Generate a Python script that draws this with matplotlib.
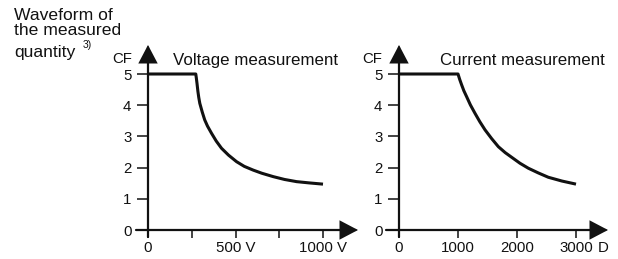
import matplotlib
matplotlib.use('Agg')
import matplotlib.pyplot as plt

plt.rcParams['font.family'] = ['Liberation Sans', 'DejaVu Sans']

# ---------------- data ----------------
volt_V = [0, 273, 276, 280, 285, 290, 296, 310, 324, 340, 363, 390, 420,
          460, 506, 550, 601, 650, 716, 780, 849, 920, 1000]
volt_CF = [5, 5, 4.88, 4.70, 4.45, 4.25, 4.06, 3.78, 3.53, 3.33, 3.10, 2.85,
           2.62, 2.40, 2.19, 2.04, 1.92, 1.82, 1.71, 1.62, 1.55, 1.51, 1.47]

curr_D = [0, 1000, 1030, 1062, 1100, 1147, 1210, 1288, 1370, 1458, 1570,
          1684, 1800, 1910, 2050, 2192, 2360, 2531, 2760, 3000]
curr_CF = [5, 5, 4.82, 4.65, 4.46, 4.27, 4.01, 3.74, 3.47, 3.21, 2.93,
           2.67, 2.48, 2.33, 2.14, 1.98, 1.83, 1.69, 1.57, 1.47]

cf_ticks = [0, 1, 2, 3, 4, 5]
cf_labels = ['0', '1', '2', '3', '4', '5']
volt_ticks = [0, 250, 500, 750, 1000]
volt_labels = ['0', '', '500 V', '', '1000 V']
curr_ticks = [0, 1000, 2000, 3000]
curr_labels = ['0', '1000', '2000', '3000']
curr_unit = 'D'

# ---------------- layout (pixels) ----------------
W, H = 618, 259
fig = plt.figure(figsize=(W / 100, H / 100), dpi=100)
fig.patch.set_facecolor('white')

Y0_PX = 230.0        # pixel row of CF = 0
PX_PER_CF = 31.2
INK = '#111111'
TICK_FS = 10.8
XTICK_LEN, XTICK_PAD = 5.8, 2.0


def make_axes(box_x0, box_x1, x0_px, px_per_unit, box_y0=40, box_y1=258):
    ax = fig.add_axes([box_x0 / W, 1 - box_y1 / H,
                       (box_x1 - box_x0) / W, (box_y1 - box_y0) / H])
    ax.set_xlim((box_x0 - x0_px) / px_per_unit, (box_x1 - x0_px) / px_per_unit)
    ax.set_ylim((Y0_PX - box_y1) / PX_PER_CF, (Y0_PX - box_y0) / PX_PER_CF)
    ax.patch.set_alpha(0)
    for s in ['top', 'right']:
        ax.spines[s].set_visible(False)
    ax.spines['bottom'].set_position(('data', 0))
    ax.spines['left'].set_position(('data', 0))
    ax.spines['bottom'].set_visible(False)
    ax.spines['left'].set_visible(False)
    return ax


def draw_axes_lines(ax, x_start, x_tip, y_start, y_tip):
    style = dict(arrowstyle='-|>,head_length=0.4,head_width=0.21',
                 mutation_scale=27, lw=1.6, color=INK,
                 shrinkA=0, shrinkB=0, joinstyle='miter')
    ax.annotate('', xy=(x_tip, 0), xytext=(x_start, 0), arrowprops=style,
                annotation_clip=False)
    ax.annotate('', xy=(0, y_tip), xytext=(0, y_start), arrowprops=style,
                annotation_clip=False)


def style_ticks(ax):
    ax.tick_params(axis='x', direction='out', length=XTICK_LEN, width=1.1,
                   color=INK, labelsize=TICK_FS, pad=XTICK_PAD, labelcolor=INK)
    ax.tick_params(axis='y', direction='out', length=7.9, width=1.1,
                   color=INK, labelsize=TICK_FS, pad=4.0, labelcolor=INK)


# left: voltage
axL = make_axes(110, 370, 148.0, 0.175)
draw_axes_lines(axL, (136 - 148) / 0.175, (358 - 148) / 0.175,
                (Y0_PX - 237) / PX_PER_CF, (Y0_PX - 45) / PX_PER_CF)
axL.set_xticks(volt_ticks)
axL.set_xticklabels(volt_labels)
axL.set_yticks(cf_ticks)
axL.set_yticklabels(cf_labels)
style_ticks(axL)
axL.plot(volt_V, volt_CF, color=INK, lw=2.2, solid_joinstyle='round',
         solid_capstyle='butt', clip_on=False)

# right: current
axR = make_axes(372, 616, 399.0, 0.059)
draw_axes_lines(axR, (386 - 399) / 0.059, (608 - 399) / 0.059,
                (Y0_PX - 237) / PX_PER_CF, (Y0_PX - 45) / PX_PER_CF)
axR.set_xticks(curr_ticks)
axR.set_xticklabels(curr_labels)
axR.set_yticks(cf_ticks)
axR.set_yticklabels(cf_labels)
style_ticks(axR)
axR.plot(curr_D, curr_CF, color=INK, lw=2.2, solid_joinstyle='round',
         solid_capstyle='butt', clip_on=False)
axR.annotate(curr_unit, xy=(curr_ticks[-1], 0), xytext=(19.5, -(XTICK_LEN + XTICK_PAD)),
             textcoords='offset points', ha='center', va='top',
             fontsize=TICK_FS, color=INK)


# ---------------- texts ----------------
def ftext(xpx, ypx, s, **kw):
    fig.text(xpx / W, 1 - ypx / H, s, color=INK, **kw)


ftext(173, 65, 'Voltage measurement', fontsize=12.2, va='baseline')
ftext(440, 65, 'Current measurement', fontsize=12.2, va='baseline')
ftext(122, 63, 'CF', fontsize=TICK_FS, ha='center', va='baseline')
ftext(372, 63, 'CF', fontsize=TICK_FS, ha='center', va='baseline')

ftext(14, 20, 'Waveform of', fontsize=12.6, va='baseline')
ftext(14, 35, 'the measured', fontsize=12.6, va='baseline')
ftext(14, 57, 'quantity', fontsize=12.6, va='baseline')
ftext(83, 48, '3)', fontsize=7.5, va='baseline')

fig.savefig('out.png', dpi=100, facecolor='white')
